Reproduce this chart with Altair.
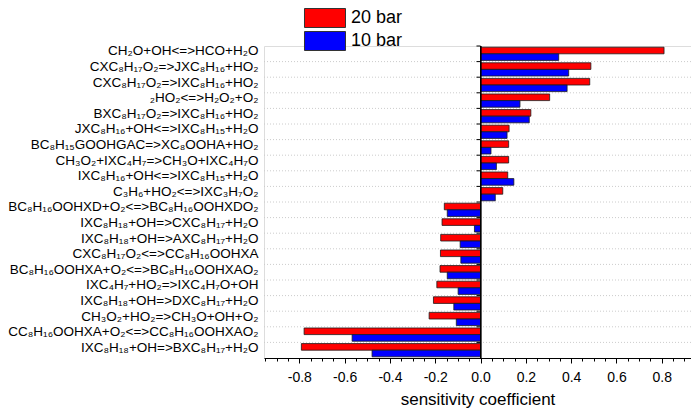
import altair as alt
import pandas as pd

FONT = "Liberation Sans"

reactions = [
    "CH₂O+OH<=>HCO+H₂O",
    "CXC₈H₁₇O₂=>JXC₈H₁₆+HO₂",
    "CXC₈H₁₇O₂=>IXC₈H₁₆+HO₂",
    "₂HO₂<=>H₂O₂+O₂",
    "BXC₈H₁₇O₂=>IXC₈H₁₆+HO₂",
    "JXC₈H₁₆+OH<=>IXC₈H₁₅+H₂O",
    "BC₈H₁₅GOOHGAC=>XC₈OOHA+HO₂",
    "CH₃O₂+IXC₄H₇=>CH₃O+IXC₄H₇O",
    "IXC₈H₁₆+OH<=>IXC₈H₁₅+H₂O",
    "C₃H₆+HO₂<=>IXC₃H₇O₂",
    "BC₈H₁₆OOHXD+O₂<=>BC₈H₁₆OOHXDO₂",
    "IXC₈H₁₈+OH=>CXC₈H₁₇+H₂O",
    "IXC₈H₁₈+OH=>AXC₈H₁₇+H₂O",
    "CXC₈H₁₇O₂<=>CC₈H₁₆OOHXA",
    "BC₈H₁₆OOHXA+O₂<=>BC₈H₁₆OOHXAO₂",
    "IXC₄H₇+HO₂=>IXC₄H₇O+OH",
    "IXC₈H₁₈+OH=>DXC₈H₁₇+H₂O",
    "CH₃O₂+HO₂=>CH₃O+OH+O₂",
    "CC₈H₁₆OOHXA+O₂<=>CC₈H₁₆OOHXAO₂",
    "IXC₈H₁₈+OH=>BXC₈H₁₇+H₂O",
]

bar20 = [0.810, 0.487, 0.482, 0.305, 0.222, 0.126, 0.124, 0.124, 0.120, 0.098,
         -0.160, -0.170, -0.176, -0.177, -0.179, -0.193, -0.208, -0.227, -0.779, -0.791]
bar10 = [0.345, 0.389, 0.382, 0.174, 0.215, 0.117, 0.046, 0.070, 0.147, 0.065,
         -0.147, -0.027, -0.090, -0.087, -0.147, -0.099, -0.118, -0.107, -0.567, -0.479]

series = ["20 bar", "10 bar"]
colors = ["#FF0000", "#0000FF"]

major_ticks = [-0.8, -0.6, -0.4, -0.2, 0.0, 0.2, 0.4, 0.6, 0.8]
minor_ticks = [-0.95, -0.9, -0.85, -0.8, -0.75, -0.7, -0.65, -0.6, -0.55, -0.5, -0.45, -0.4,
               -0.35, -0.3, -0.25, -0.2, -0.15, -0.1, -0.05, 0.0, 0.05, 0.1, 0.15, 0.2, 0.25,
               0.3, 0.35, 0.4, 0.45, 0.5, 0.55, 0.6, 0.65, 0.7, 0.75, 0.8, 0.85, 0.9]

rows = []
for r, a, b in zip(reactions, bar20, bar10):
    rows.append({"reaction": r, "series": series[0], "value": a})
    rows.append({"reaction": r, "series": series[1], "value": b})
df = pd.DataFrame(rows)
df_rx = pd.DataFrame({"reaction": reactions})
df_grid = pd.DataFrame({"reaction": reactions[1:]})
df_minor = pd.DataFrame({"m": minor_ticks})

xscale = alt.Scale(domain=[-0.956, 0.929], nice=False, zero=False)
yscale = alt.Scale(domain=reactions, paddingInner=0, paddingOuter=0)

yaxis = alt.Axis(title=None, domain=False, ticks=False, tickSize=0, grid=False,
                 labelFontSize=13.5, labelPadding=6, labelColor="black", labelOffset=-2.5,
                 labelFont=FONT, labelLimit=0)

bars = alt.Chart(df).mark_bar(stroke="#1a1a1a", strokeWidth=0.8).encode(
    y=alt.Y("reaction:N", scale=yscale, axis=yaxis),
    x=alt.X("value:Q", scale=xscale, stack=None,
            axis=alt.Axis(orient="bottom", values=major_ticks, tickSize=5, grid=False,
                          labelExpr="replace(format(datum.value, '.1f'), '\u2212', '-')",
                          domainColor="black", tickColor="black", labelColor="black",
                          labelFontSize=14, labelFont=FONT, labelPadding=7,
                          title="sensitivity coefficient", titleFontSize=17,
                          titleFontWeight="normal", titleFont=FONT, titleColor="black",
                          titlePadding=7)),
    yOffset=alt.YOffset("series:N", sort=series,
                        scale=alt.Scale(domain=series, paddingOuter=0.18, paddingInner=0)),
    color=alt.Color("series:N", sort=series,
                    scale=alt.Scale(domain=series, range=colors),
                    legend=alt.Legend(title=None, orient="none", legendX=51, legendY=-38,
                                      symbolType="M-2.158,-1H2.158V1H-2.158Z", symbolSize=361,
                                      symbolStrokeColor="#333333", symbolStrokeWidth=1,
                                      symbolOpacity=1,
                                      labelFontSize=18, labelFont=FONT, labelColor="black",
                                      rowPadding=-1, labelOffset=16, padding=0)),
)

grid = alt.Chart(df_grid).mark_rule(color="#cccccc", strokeDash=[1, 2], strokeWidth=1).encode(
    y=alt.Y("reaction:N", scale=yscale, bandPosition=0, axis=yaxis)
)

zero_line = alt.Chart(df_rx).mark_rule(color="black", strokeWidth=1).encode(
    x=alt.XDatum(0, axis=None)
)

y_ticks = alt.Chart(df_rx).mark_rule(color="black", strokeWidth=1).encode(
    y=alt.Y("reaction:N", scale=yscale, bandPosition=0, axis=yaxis),
    x=alt.XDatum(0, axis=None),
    x2=alt.X2Datum(-0.018),
)

minor = alt.Chart(df_minor).mark_point(opacity=0).encode(
    x=alt.X("m:Q", scale=xscale,
            axis=alt.Axis(orient="bottom", values=minor_ticks, tickSize=3, labels=False,
                          domain=False, grid=False, title=None, tickColor="black"))
)

chart = alt.layer(grid, bars, zero_line, y_ticks, minor).resolve_axis(
    x="independent"
).properties(
    width=427, height=312,
    autosize=alt.AutoSizeParams(type="none"),
    padding={"left": 256, "top": 38, "right": 0, "bottom": 51},
).configure_view(stroke="transparent", strokeWidth=0).configure(font=FONT)

chart.save("out.html", embed_options={"renderer": "svg", "actions": False})
